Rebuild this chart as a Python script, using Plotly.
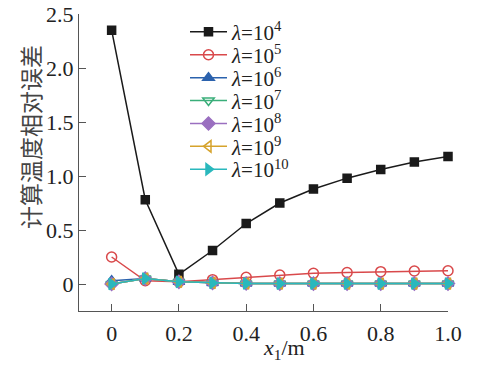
import plotly.graph_objects as go

x_vals = [0, 0.1, 0.2, 0.3, 0.4, 0.5, 0.6, 0.7, 0.8, 0.9, 1.0]
err_1e4 = [2.35, 0.78, 0.09, 0.31, 0.56, 0.75, 0.88, 0.98, 1.06, 1.13, 1.18]
err_1e5 = [0.25, 0.03, 0.02, 0.04, 0.062, 0.083, 0.099, 0.106, 0.114, 0.12, 0.123]
err_1e6 = [0.03, 0.05, 0.02, 0.01, 0.005, 0.004, 0.004, 0.004, 0.004, 0.004, 0.004]
err_1e7 = [0.0, 0.05, 0.02, 0.01, 0.005, 0.004, 0.004, 0.004, 0.004, 0.004, 0.004]
err_1e8 = [0.0, 0.05, 0.02, 0.01, 0.005, 0.004, 0.004, 0.004, 0.004, 0.004, 0.004]
err_1e9 = [0.0, 0.05, 0.02, 0.01, 0.005, 0.004, 0.004, 0.004, 0.004, 0.004, 0.004]
err_1e10 = [0.0, 0.05, 0.02, 0.01, 0.005, 0.004, 0.004, 0.004, 0.004, 0.004, 0.004]
labels = ["4", "5", "6", "7", "8", "9", "10"]
x_ticks = [0, 0.2, 0.4, 0.6, 0.8, 1.0]
x_tick_text = ["0", "0.2", "0.4", "0.6", "0.8", "1.0"]
y_ticks = [0, 0.5, 1.0, 1.5, 2.0, 2.5]
y_tick_text = ["0", "0.5", "1.0", "1.5", "2.0", "2.5"]

series = [err_1e4, err_1e5, err_1e6, err_1e7, err_1e8, err_1e9, err_1e10]
colors = ["#1a1a1a", "#d9494b", "#2b62ad", "#3aae7a", "#9a6fc0", "#d6a32c", "#2ab8bd"]
symbols = ["square", "circle-open", "triangle-up", "triangle-down-open", "diamond", "triangle-left-open", "triangle-right"]
sizes = [8, 10, 10, 10, 10, 10, 10]

FONT = "Liberation Serif, Times New Roman, serif"

# page body has an 8px margin; figure size is reduced to fit the 486x369 window
W, H = 478, 361
L, R, T, B = 71, 38, 6, 58
pw = W - L - R
ph = H - T - B

fig = go.Figure()
legend_layouts = {}
for i, (ys, c, s, sz, lab) in enumerate(zip(series, colors, symbols, sizes, labels)):
    lname = "legend" if i == 0 else "legend%d" % (i + 1)
    fig.add_trace(go.Scatter(
        x=x_vals, y=ys, mode="lines+markers", cliponaxis=False,
        name="<i>λ</i>=10<sup>%s</sup>" % lab, legend=lname, showlegend=True,
        line=dict(color=c, width=1.5),
        marker=dict(symbol=s, size=sz, color=c, line=dict(color=c, width=1.5)),
    ))
    item_y = 22.7 + 22.9 * i
    legend_layouts[lname] = dict(
        x=(177 - L) / pw, y=(H - B - item_y + 19) / ph, xanchor="left", yanchor="top",
        bgcolor="rgba(0,0,0,0)", font=dict(size=21, family=FONT, color="#222"),
        itemwidth=37)

fig.update_layout(
    width=W, height=H, showlegend=True,
    margin=dict(l=L, r=R, t=T, b=B, autoexpand=False),
    paper_bgcolor="white", plot_bgcolor="white",
    font=dict(family=FONT, size=22, color="#222"),
    xaxis=dict(range=[-0.097, 1.0], tickvals=x_ticks, ticktext=x_tick_text,
               ticks="inside", ticklen=7, tickcolor="#555", showline=True,
               linecolor="#555", linewidth=1.2, showgrid=False, zeroline=False,
               automargin=False, tickfont=dict(size=22), ticklabeloverflow="allow",
               ticklabelstandoff=2),
    yaxis=dict(range=[-0.25, 2.5], tickvals=y_ticks, ticktext=y_tick_text,
               ticks="inside", ticklen=7, tickcolor="#555", showline=True,
               linecolor="#555", linewidth=1.2, showgrid=False, zeroline=False,
               automargin=False, tickfont=dict(size=22), ticklabeloverflow="allow"),
    annotations=[
        dict(text="计算温度相对误差", textangle=-90,
             x=(22 - L) / pw, y=(H - B - 129) / ph,
             xref="paper", yref="paper", showarrow=False,
             xanchor="center", yanchor="middle",
             font=dict(size=23, family="Noto Sans CJK SC", color="#444")),
        dict(text="<i>x</i><sub>1</sub>/m",
             x=(276 - L) / pw, y=(H - B - 341) / ph,
             xref="paper", yref="paper", showarrow=False,
             xanchor="center", yanchor="middle",
             font=dict(size=22, family=FONT, color="#222")),
    ],
    **legend_layouts,
)

fig.write_html("out.html")
